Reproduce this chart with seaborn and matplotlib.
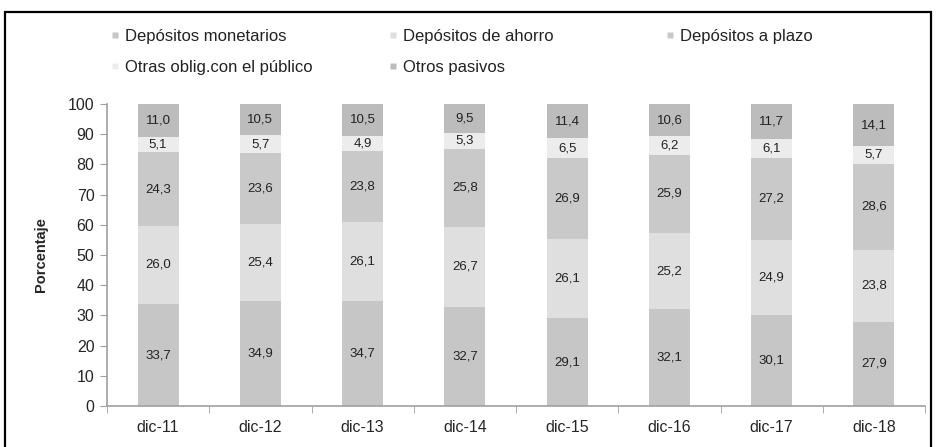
import numpy as np
import pandas as pd
import matplotlib
matplotlib.use('Agg')
import matplotlib.pyplot as plt
from matplotlib.lines import Line2D
from matplotlib.patches import Rectangle
import seaborn as sns

# Data (percent of total liabilities)
fechas = ['dic-11', 'dic-12', 'dic-13', 'dic-14', 'dic-15', 'dic-16', 'dic-17', 'dic-18']
series = ['Depósitos monetarios', 'Depósitos de ahorro', 'Depósitos a plazo',
          'Otras oblig.con el público', 'Otros pasivos']
monetarios = [33.7, 34.9, 34.7, 32.7, 29.1, 32.1, 30.1, 27.9]
ahorro = [26.0, 25.4, 26.1, 26.7, 26.1, 25.2, 24.9, 23.8]
plazo = [24.3, 23.6, 23.8, 25.8, 26.9, 25.9, 27.2, 28.6]
otras_oblig = [5.1, 5.7, 4.9, 5.3, 6.5, 6.2, 6.1, 5.7]
otros_pasivos = [11.0, 10.5, 10.5, 9.5, 11.4, 10.6, 11.7, 14.1]
colores = ['#c6c6c6', '#dfdfdf', '#c9c9c9', '#ececec', '#bcbcbc']

df = pd.DataFrame({'fecha': fechas,
                   series[0]: monetarios, series[1]: ahorro, series[2]: plazo,
                   series[3]: otras_oblig, series[4]: otros_pasivos})
cum = df[series].cumsum(axis=1)

sns.set_style('white')
plt.rcParams['font.family'] = ['Liberation Sans', 'DejaVu Sans']

fig = plt.figure(figsize=(9.36, 4.47), dpi=100)
ax = fig.add_axes([0.1143, 0.0917, 0.874, 0.6756])

# stacked bars: draw cumulative totals from top layer down
for i in range(len(series) - 1, -1, -1):
    sns.barplot(x=df['fecha'], y=cum[series[i]], order=fechas, color=colores[i],
                width=0.4, saturation=1, edgecolor='none', ax=ax)

# value labels
for j in range(len(fechas)):
    base = 0
    for i, s in enumerate(series):
        v = df[s][j]
        ax.text(j, base + v / 2, f'{v:.1f}'.replace('.', ','), ha='center', va='center',
                fontsize=9.5, color='#222222')
        base += v

ax.set_xlim(-0.5, 7.5)
ax.set_ylim(0, 100)
ax.set_yticks(range(0, 101, 10))
ax.set_xlabel('')
ax.set_ylabel('Porcentaje', fontsize=10.5, fontweight='bold', labelpad=14)
ax.set_xticks(np.arange(-0.5, 8, 1), minor=True)
ax.tick_params(axis='x', which='major', length=0, labelsize=11.5, pad=10)
ax.tick_params(axis='x', which='minor', length=5, color='#a0a0a0', direction='out', bottom=True)
ax.tick_params(axis='y', length=5, color='#a0a0a0', direction='out', labelsize=11.5, left=True, pad=4)
for sp in ['top', 'right']:
    ax.spines[sp].set_visible(False)
for sp in ['left', 'bottom']:
    ax.spines[sp].set_color('#a0a0a0')
    ax.spines[sp].set_linewidth(1.2)

# legend, three columns placed by hand
def handle(c):
    return Line2D([], [], marker='s', linestyle='none', markersize=5,
                  markerfacecolor=c, markeredgecolor='none')

cols = [[0, 3], [1, 4], [2]]
xs = [110, 388, 665]
for idx, x in zip(cols, xs):
    leg = fig.legend([handle(colores[k]) for k in idx], [series[k] for k in idx],
                     loc='upper left', bbox_to_anchor=(x / 936, 1 - 29 / 447),
                     frameon=False, fontsize=12, handlelength=0.6, handletextpad=0.3,
                     labelspacing=0.95, borderaxespad=0, borderpad=0)
    for t in leg.get_texts():
        t.set_color('#222222')

# outer frame
fig.add_artist(Rectangle((5 / 936, -0.02), 926 / 936, 1.02 - 12 / 447,
                         transform=fig.transFigure, fill=False, lw=1.6, edgecolor='black'))

fig.savefig('out.png', dpi=100)
